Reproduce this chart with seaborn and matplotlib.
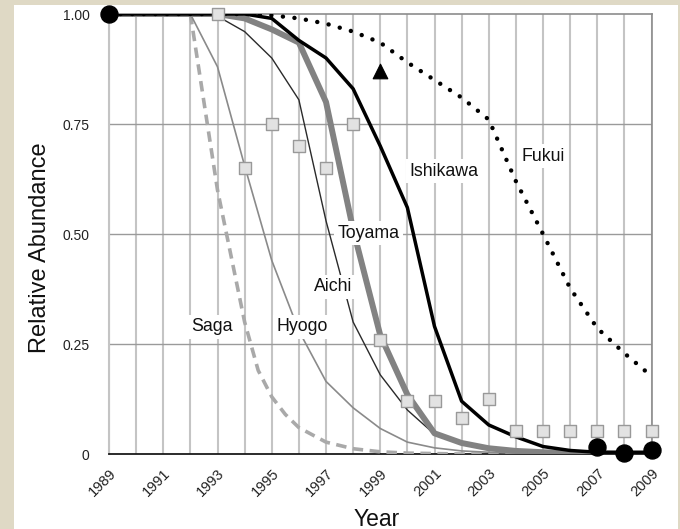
import matplotlib
matplotlib.use("Agg")
import matplotlib.pyplot as plt
import seaborn as sns
import pandas as pd
from matplotlib.patches import Rectangle

sns.set_style("white")
plt.rcParams['font.family'] = ['Liberation Sans', 'DejaVu Sans']

years = list(range(1989, 2010))

ishikawa = [1.0, 1.0, 1.0, 1.0, 1.0, 1.0, 0.99, 0.94, 0.90, 0.83, 0.70,
            0.56, 0.29, 0.12, 0.066, 0.039, 0.017, 0.008, 0.004, 0.004, 0.004]
toyama = [1.0, 1.0, 1.0, 1.0, 1.0, 0.99, 0.965, 0.935, 0.80, 0.51, 0.27,
          0.135, 0.047, 0.025, 0.013, 0.007, 0.004, 0.002, 0.001, 0.0, 0.0]
aichi = [1.0, 1.0, 1.0, 1.0, 0.995, 0.96, 0.90, 0.805, 0.53, 0.30, 0.18,
         0.10, 0.045, 0.022, 0.011, 0.006, 0.003, 0.001, 0.0, 0.0, 0.0]
hyogo = [1.0, 1.0, 1.0, 1.0, 0.88, 0.655, 0.44, 0.28, 0.165, 0.105, 0.058,
         0.027, 0.014, 0.007, 0.004, 0.002, 0.001, 0.0, 0.0, 0.0, 0.0]
fukui = [1.0, 1.0, 1.0, 1.0, 1.0, 1.0, 0.997, 0.99, 0.978, 0.96, 0.935,
         0.89, 0.85, 0.81, 0.76, 0.62, 0.50, 0.377, 0.286, 0.229, 0.177]

saga_years = [1992, 1992.5, 1993, 1993.5, 1994, 1994.5, 1995, 1995.5, 1996,
              1997, 1998, 1999, 2000, 2001, 2002, 2003, 2004]
saga = [1.0, 0.80, 0.60, 0.45, 0.30, 0.19, 0.13, 0.09, 0.06,
        0.027, 0.012, 0.005, 0.002, 0.001, 0.0, 0.0, 0.0]

obs_years = [1993, 1994, 1995, 1996, 1997, 1998, 1999, 2000, 2001, 2002,
             2003, 2004, 2005, 2006, 2007, 2008, 2009]
obs_vals = [1.0, 0.65, 0.75, 0.70, 0.65, 0.75, 0.26, 0.12, 0.12, 0.082,
            0.125, 0.053, 0.053, 0.053, 0.053, 0.053, 0.053]

circ_years = [1989, 2007, 2008, 2009]
circ_vals = [1.0, 0.017, 0.002, 0.008]

tri_years = [1999]
tri_vals = [0.87]

labels = ["Ishikawa", "Fukui", "Toyama", "Aichi", "Saga", "Hyogo"]
label_x = [2001.36, 2005.0, 1998.56, 1997.28, 1992.8, 1996.14]
label_y = [0.643, 0.677, 0.502, 0.380, 0.289, 0.289]

ytick_vals = [0, 0.25, 0.5, 0.75, 1.0]
ytick_labels = ["0", "0.25", "0.50", "0.75", "1.00"]
xtick_vals = list(range(1989, 2010, 2))

fig = plt.figure(figsize=(6.8, 5.29), dpi=100)
fig.patch.set_facecolor("#dfd9c5")
bg = Rectangle((14 / 680, 0), (678 - 14) / 680, (529 - 5) / 529,
               transform=fig.transFigure, facecolor="white",
               edgecolor="none", zorder=-10)
fig.patches.append(bg)
ax = fig.add_axes([109 / 680, 1 - 454 / 529, (651.5 - 109) / 680, 440 / 529])
ax.set_zorder(5)
ax.set_facecolor("white")

# grid
for yr in years:
    ax.axvline(yr, color="#c4c4c4", lw=1.5, zorder=0.5)
for v in [0.25, 0.5, 0.75]:
    ax.axhline(v, color="#9a9a9a", lw=1.0, zorder=0.6)

df = lambda x, y: pd.DataFrame({"x": x, "y": y})

sns.lineplot(data=df(saga_years, saga), x="x", y="y", ax=ax, color="#a9a9a9",
             lw=2.6, linestyle=(0, (2.9, 1.8)), zorder=2)
sns.lineplot(data=df(years, hyogo), x="x", y="y", ax=ax, color="#8a8a8a",
             lw=1.2, zorder=2)
sns.lineplot(data=df(years, aichi), x="x", y="y", ax=ax, color="#2a2a2a",
             lw=1.0, zorder=2.1)
sns.lineplot(data=df(years, toyama), x="x", y="y", ax=ax, color="#828282",
             lw=4.3, zorder=2.2)
sns.lineplot(data=df(years, fukui), x="x", y="y", ax=ax, color="black",
             lw=3.2, zorder=2.3)
fk = ax.lines[-1]
fk.set_linestyle((0, (0.01, 2.6)))
fk.set_dash_capstyle("round")
sns.lineplot(data=df(years, ishikawa), x="x", y="y", ax=ax, color="black",
             lw=2.5, zorder=2.4)

sns.scatterplot(data=df(obs_years, obs_vals), x="x", y="y", ax=ax, marker="s",
                s=80, color="#e2e2e2", edgecolor="#999999", linewidth=1.0,
                zorder=3, clip_on=False)
sns.scatterplot(data=df(circ_years, circ_vals), x="x", y="y", ax=ax, marker="o",
                s=150, color="black", edgecolor="black", zorder=3.2, clip_on=False)
sns.scatterplot(data=df(tri_years, tri_vals), x="x", y="y", ax=ax, marker="^",
                s=110, color="black", edgecolor="black", zorder=3.2, clip_on=False)

for t, lx, ly in zip(labels, label_x, label_y):
    ax.text(lx, ly, t, ha="center", va="center", fontsize=12.8, color="#111111",
            zorder=5, bbox=dict(facecolor="white", edgecolor="none", pad=2.5))

ax.set_xlim(1989, 2009)
ax.set_ylim(0, 1)
ax.set_yticks(ytick_vals)
ax.set_yticklabels(ytick_labels, fontsize=10, color="#222222")
ax.set_xticks(xtick_vals)
ax.set_xticklabels([str(v) for v in xtick_vals], fontsize=10.5, color="#222222",
                   rotation=45, ha="right", va="top", rotation_mode="anchor")
ax.tick_params(axis="y", length=0, pad=14)
ax.tick_params(axis="x", length=0, pad=9)

for side in ["top", "right"]:
    ax.spines[side].set_color("#8c8c8c")
    ax.spines[side].set_linewidth(1.2)
ax.spines["left"].set_color("#c4c4c4")
ax.spines["left"].set_linewidth(1.5)
ax.spines["bottom"].set_color("#1a1a1a")
ax.spines["bottom"].set_linewidth(1.3)
for s in ax.spines.values():
    s.set_zorder(1)

ax.set_xlabel("Year", fontsize=16.5, color="#111111")
ax.set_ylabel("Relative Abundance", fontsize=17, color="#111111")
ax.xaxis.set_label_coords(0.5 + (376 - 380) / 542.5, -(519 - 454) / 440)
ax.yaxis.set_label_coords(-(109 - 40) / 542.5, 0.5 + (220 - 234) / 440)
ax.xaxis.label.set_va("center")
ax.yaxis.label.set_va("center")

fig.savefig("out.png", dpi=100, facecolor=fig.get_facecolor())
